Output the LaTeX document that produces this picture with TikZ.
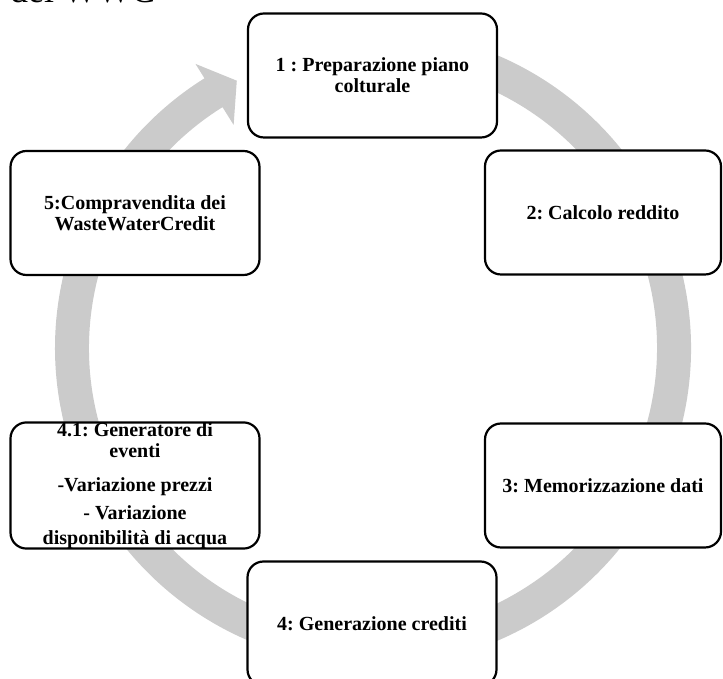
\documentclass[tikz,border=0pt]{standalone}
\usepackage{fontspec}
\setmainfont{Liberation Serif}
\frenchspacing
\definecolor{Ring}{HTML}{CBCBCB}
\definecolor{Dark}{HTML}{000000}
\tikzset{
    cyclebox/.style={rectangle, rounded corners=16pt, draw=Dark, line width=2.2pt, fill=white, align=center, inner sep=0pt, font=\fontsize{20}{21}\selectfont\bfseries, minimum width=249pt, minimum height=124pt},
    ringarrow/.style={fill=Ring},
    titlefont/.style={font=\fontsize{36}{40}\selectfont},
}

\begin{document}
\begin{tikzpicture}[x=1pt, y=1pt]
    \clip (0,0) rectangle (723,679);
    % Titolo (tagliato in alto)
    \node[titlefont, anchor=base west, inner sep=0pt] (titolo) at (10,676) {del WWC};

    % Freccia circolare
    \coordinate (centro) at (373,331);
    \begin{scope}[shift={(centro)}]
        \fill[ringarrow] (100:318) arc[start angle=100, end angle=-238, radius=318]
            -- (-238:335) -- (-243:300) -- (-238:263) -- (-238:284)
            arc[start angle=-238, end angle=100, radius=284] -- cycle;
    \end{scope}

    % Nodi
    \node[cyclebox] (p1) at (372.5,603.5) {1 : Preparazione piano\\colturale};
    \node[cyclebox, minimum width=236pt] (p2) at (603,466.5) {2: Calcolo reddito};
    \node[cyclebox, minimum width=236pt] (p3) at (603,193.5) {3: Memorizzazione dati};
    \node[cyclebox] (p4) at (372,55.5) {4: Generazione crediti};
    \node[cyclebox] (p41) at (135,193.5) {4.1: Generatore di\\eventi\\[13pt]-Variazione prezzi\\[7pt]- Variazione\\[4pt]disponibilità di acqua};
    \node[cyclebox] (p5) at (135,466) {5:Compravendita dei\\WasteWaterCredit};
\end{tikzpicture}
\end{document}
